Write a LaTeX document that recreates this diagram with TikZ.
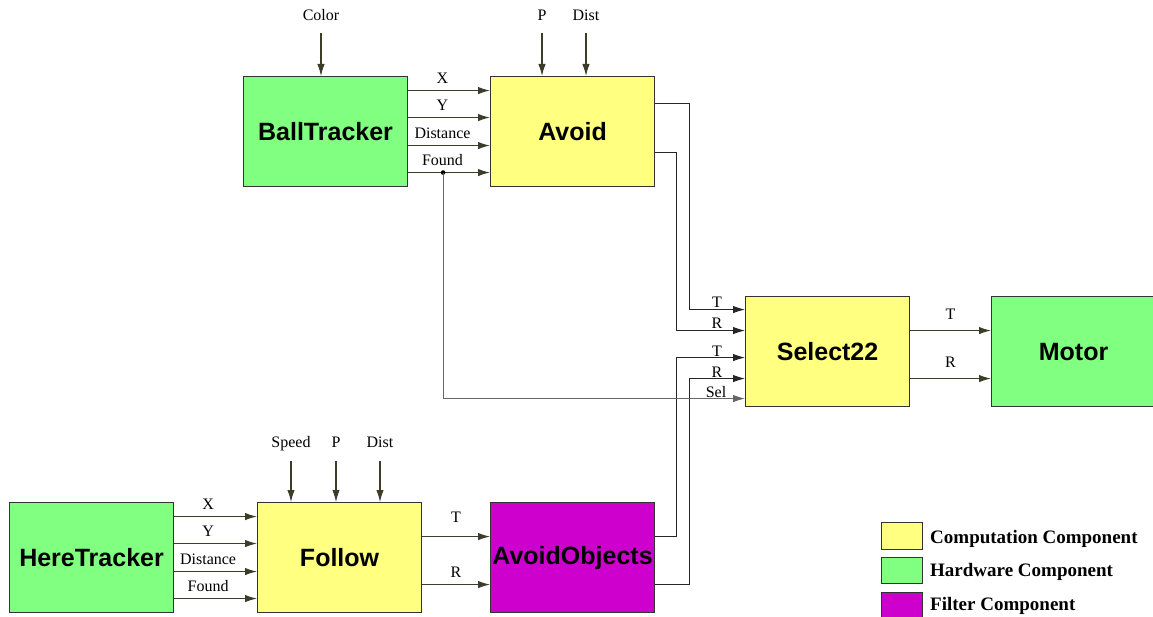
\documentclass[tikz,border=0pt]{standalone}
\usepackage{fontspec}
\setmainfont{Liberation Serif}
\newfontfamily\blockfont{Liberation Sans}
\usetikzlibrary{arrows.meta}

\definecolor{compyellow}{RGB}{255,255,128}
\definecolor{hwgreen}{RGB}{128,255,128}
\definecolor{filtmagenta}{RGB}{206,0,206}
\definecolor{wire}{RGB}{60,60,40}

\tikzset{
  block/.style={draw=black!80, line width=1.1pt, minimum width=164pt,
    minimum height=110pt, inner sep=0pt, anchor=north west,
    font=\blockfont\bfseries\fontsize{25}{25}\selectfont},
  comp/.style={block, fill=compyellow},
  hw/.style={block, fill=hwgreen},
  filt/.style={block, fill=filtmagenta},
  sig/.style={draw=wire, line width=1.2pt, -{Latex[length=12pt,width=7.5pt]}},
  lbl/.style={anchor=base, inner sep=0pt, font=\fontsize{16}{16}\selectfont},
  keybox/.style={draw=black!80, line width=0.9pt, minimum width=41pt,
    minimum height=27pt, inner sep=0pt, anchor=north west},
  keytext/.style={anchor=base west, inner sep=0pt,
    font=\bfseries\fontsize{19}{19}\selectfont},
}

\begin{document}
\begin{tikzpicture}[x=1pt,y=-1pt]
  \useasboundingbox (0,0) rectangle (1153,617);

  % Blocs
  \node[hw]   (ball)   at (243,76)  {BallTracker};
  \node[comp] (avoid)  at (490,76)  {Avoid};
  \node[comp] (sel)    at (745,296) {Select22};
  \node[hw]   (motor)  at (991,296) {Motor};
  \node[hw]   (here)   at (9,502)   {HereTracker};
  \node[comp] (follow) at (257,502) {Follow};
  \node[filt] (avobj)  at (490,502) {AvoidObjects};

  % Entrades de dalt
  \coordinate (color) at (321,33);
  \coordinate (ptop)  at (542,33);
  \coordinate (dtop)  at (586,33);
  \node[lbl] at (321,21) {Color};
  \node[lbl] at (542,21) {P};
  \node[lbl] at (586,21) {Dist};
  \draw[sig] (color) -- (color |- ball.north);
  \draw[sig] (ptop) -- (ptop |- avoid.north);
  \draw[sig] (dtop) -- (dtop |- avoid.north);

  \coordinate (speed) at (291,461);
  \coordinate (pbot)  at (336,461);
  \coordinate (dbot)  at (380,461);
  \node[lbl] at (291,447) {Speed};
  \node[lbl] at (336,447) {P};
  \node[lbl] at (380,447) {Dist};
  \draw[sig] (speed) -- (speed |- follow.north);
  \draw[sig] (pbot) -- (pbot |- follow.north);
  \draw[sig] (dbot) -- (dbot |- follow.north);

  % Sortides dels trackers
  \foreach \dy/\txt in {41/X, 14/Y, -14/Distance, -41/Found} {
    \draw[sig] ([yshift=\dy pt]ball.east) -- node[lbl, pos=0.42, yshift=7pt] {\txt}
      ([yshift=\dy pt]avoid.west);
    \draw[sig] ([yshift=\dy pt]here.east) -- node[lbl, pos=0.41, yshift=7pt] {\txt}
      ([yshift=\dy pt]follow.west);
  }

  % Follow -> AvoidObjects
  \draw[sig] ([yshift=21pt]follow.east) -- node[lbl, pos=0.5, yshift=14pt] {T}
    ([yshift=21pt]avobj.west);
  \draw[sig] ([yshift=-27pt]follow.east) -- node[lbl, pos=0.5, yshift=7pt] {R}
    ([yshift=-27pt]avobj.west);

  % Cap al selector
  \draw[sig, line width=0.9pt, draw=black!85] ([yshift=28pt]avoid.east) -- ++(34,0)
    |- ([yshift=42pt]sel.west);
  \draw[sig, line width=0.9pt, draw=black!85] ([yshift=-21pt]avoid.east) -- ++(21,0)
    |- ([yshift=21pt]sel.west);
  \draw[sig, line width=0.9pt, draw=black!85] ([yshift=21pt]avobj.east) -- ++(21,0)
    |- ([yshift=-6pt]sel.west);
  \draw[sig, line width=0.9pt, draw=black!85] ([yshift=-27pt]avobj.east) -- ++(34,0)
    |- ([yshift=-27pt]sel.west);
  \coordinate (found) at ([xshift=35pt,yshift=-41pt]ball.east);
  \fill (found) circle (2.3pt);
  \draw[sig, line width=0.9pt, draw=black!60] (found) |- ([yshift=-47pt]sel.west);

  \node[lbl] at (717,308) {T};
  \node[lbl] at (717,329) {R};
  \node[lbl] at (717,356) {T};
  \node[lbl] at (717,377) {R};
  \node[lbl] at (716,397) {Sel};

  % Selector -> Motor
  \draw[sig] ([yshift=21pt]sel.east) -- node[lbl, yshift=11pt] {T}
    ([yshift=21pt]sel.east -| motor.west);
  \draw[sig] ([yshift=-27pt]sel.east) -- node[lbl, yshift=11pt] {R}
    ([yshift=-27pt]sel.east -| motor.west);

  % Llegenda
  \node[keybox, fill=compyellow] (kcomp) at (881,522) {};
  \node[keybox, fill=hwgreen, minimum height=26pt] (khw) at (881,557) {};
  \node[keybox, fill=filtmagenta] (kfilt) at (881,592) {};
  \node[keytext] at (930,543) {Computation Component};
  \node[keytext] at (930,576) {Hardware Component};
  \node[keytext] at (930,610) {Filter Component};
\end{tikzpicture}
\end{document}
